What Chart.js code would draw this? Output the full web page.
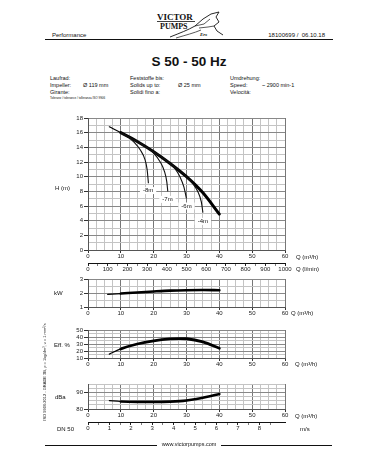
<!DOCTYPE html>
<html><head><meta charset="utf-8">
<script src="https://cdn.jsdelivr.net/npm/chart.js@4.4.1/dist/chart.umd.min.js"></script>
<style>
html,body{margin:0;padding:0;background:#fff;}
#page{position:relative;width:378px;height:472px;overflow:hidden;font-family:"Liberation Sans",Arial,sans-serif;color:#111;}
.t{position:absolute;white-space:nowrap;font-size:6px;line-height:1;}
.s{font-size:5.5px;}
canvas{position:absolute;left:0;}
.hl{position:absolute;height:1.3px;background:#111;}
</style></head><body><div id="page">
<svg width="378" height="45" style="position:absolute;left:0;top:0">
  <text x="157" y="20" font-family="Liberation Serif, DejaVu Serif, serif" font-weight="bold" font-size="9" fill="#111">VICTOR</text>
  <rect x="157" y="21.2" width="38" height="0.8" fill="#111"/>
  <text x="160" y="29" font-family="Liberation Serif, DejaVu Serif, serif" font-weight="bold" font-size="8" fill="#111">PUMPS</text>
  <path d="M170,37 C180,33 188,30 195,26 L203,19 L211,14 L219,12 L216,17 L219,22 L214,26 L217,31 L223,35" fill="none" stroke="#111" stroke-width="0.9"/>
  <path d="M195,26 L204,24 L210,19 M199,28 L208,27 L214,26 M176,38 C186,35 194,33 201,30" fill="none" stroke="#111" stroke-width="0.7"/>
  <text x="200" y="36" font-family="Liberation Serif, serif" font-style="italic" font-weight="bold" font-size="5" fill="#111">Ers</text>
</svg>
<div class="t" style="left:52px;top:32px">Performance</div>
<div class="t" style="right:53px;top:32px">18100699 /&nbsp; 06.10.18</div>
<div class="hl" style="left:45px;top:39px;width:288px"></div>
<div class="t" style="left:0;width:378px;text-align:center;top:54.5px;font-size:13.5px;font-weight:bold">S 50 - 50 Hz</div>

<div class="t s" style="left:50px;top:75.7px">Laufrad:</div>
<div class="t s" style="left:50px;top:82.7px">Impeller:</div>
<div class="t s" style="left:50px;top:89.7px">Girante:</div>
<div class="t" style="left:50px;top:96.5px;font-size:3px">Toleranz / tolerance / tolleranza ISO 9906</div>
<div class="t s" style="left:83px;top:82.7px">Ø 119 mm</div>
<div class="t s" style="left:130px;top:75.7px">Feststoffe bis:</div>
<div class="t s" style="left:130px;top:82.7px">Solids up to:</div>
<div class="t s" style="left:130px;top:89.7px">Solidi fino a:</div>
<div class="t s" style="left:178px;top:82.7px">Ø 25 mm</div>
<div class="t s" style="left:230px;top:75.7px">Umdrehung:</div>
<div class="t s" style="left:230px;top:82.7px">Speed:</div>
<div class="t s" style="left:230px;top:89.7px">Velocità:</div>
<div class="t s" style="left:262px;top:82.7px">~ 2900 min-1</div>

<canvas id="cH" width="378" height="172" style="top:105px"></canvas>
<canvas id="cK" width="378" height="50" style="top:270px"></canvas>
<canvas id="cE" width="378" height="50" style="top:322px"></canvas>
<canvas id="cD" width="378" height="72" style="top:376px"></canvas>

<div class="t" style="left:55px;top:185px">H (m)</div>
<div class="t" style="left:296px;top:253.7px">Q (m³/h)</div>
<div class="t" style="left:296px;top:266.3px">Q (l/min)</div>
<div class="t" style="left:54px;top:290px">kW</div>
<div class="t" style="left:291px;top:310.3px">Q (m³/h)</div>
<div class="t" style="left:54px;top:342px">Eff. %</div>
<div class="t" style="left:295px;top:361.3px">Q (m³/h)</div>
<div class="t" style="left:55px;top:394px">dBa</div>
<div class="t" style="left:295px;top:412.5px">Q (m³/h)</div>
<div class="t" style="left:57px;top:426px">DN 50</div>
<div class="t" style="left:300px;top:426px">m/s</div>
<div class="t" style="left:45px;top:372px;font-size:4px;transform:translate(-50%,-50%) rotate(-90deg)">ISO 9906:2012 - GRADE 3B, ρ = 1kg/dm³, ν = 1 mm²/s</div>

<div class="hl" style="left:45px;top:444.5px;width:112px"></div>
<div class="t s" style="left:0;width:378px;text-align:center;top:442px">www.victorpumps.com</div>
<div class="hl" style="left:221px;top:444.5px;width:111px"></div>
</div>
<script>
// ---- data ----
const qTicksM3h = [0, 10, 20, 30, 40, 50, 60];
const qTicksLmin = [0, 100, 200, 300, 400, 500, 600, 700, 800, 900, 1000];
const headTicks = [0, 2, 4, 6, 8, 10, 12, 14, 16, 18];
const powerTicks = [1, 2, 3];
const effTicks = [10, 20, 30, 40, 50];
const noiseTicks = [80, 90];
const velocityTicks = [0, 1, 2, 3, 4, 5, 6, 7, 8, 9];

const mainQ = [6.5, 10, 15, 20, 25, 30, 35, 40];
const mainH = [16.8, 16.0, 14.8, 13.4, 11.8, 10.0, 7.8, 4.9];

const lift8Q = [10, 12, 14, 16, 17.3, 18.0, 18.4];
const lift8H = [16.0, 15.5, 14.7, 13.6, 12.4, 11.0, 9.1];
const lift7Q = [10, 15, 18, 20, 22, 23.3, 24, 24.3];
const lift7H = [16.0, 14.8, 14.0, 13.2, 12.0, 10.7, 9.3, 8.0];
const lift6Q = [10, 20, 25, 26.5, 28, 29.2, 30];
const lift6H = [16.0, 13.4, 11.8, 11.1, 10.0, 8.6, 7.0];
const lift4Q = [10, 20, 25, 30, 32, 33.5, 34.5, 35];
const lift4H = [16.0, 13.4, 11.8, 10.0, 9.0, 7.9, 6.6, 5.1];

const liftLabels = ['-8m', '-7m', '-6m', '-4m'];
const liftLabelQ = [18.3, 24.2, 30, 35];
const liftLabelH = [8.1, 6.9, 6.0, 3.9];

const powerQ = [6, 10, 15, 20, 25, 30, 35, 40];
const powerKW = [1.9, 1.96, 2.04, 2.11, 2.17, 2.2, 2.21, 2.2];

const effQ = [6.5, 10, 15, 20, 25, 28, 30, 35, 40];
const effPct = [15.5, 23, 30, 34.5, 37.2, 37.8, 37.5, 33, 24];

const noiseQ = [6.5, 10, 15, 20, 25, 28, 30, 33, 36, 40];
const noiseDb = [85, 84.5, 84.3, 84.3, 84.4, 84.7, 85.1, 86, 87.2, 89];

// ---- chart helpers ----
Chart.defaults.font.family = '"Liberation Sans", Arial, sans-serif';
Chart.defaults.font.size = 6;
Chart.defaults.font.lineHeight = 1.2;
Chart.defaults.color = '#222';
Chart.defaults.animation = false;

const CLEAR = 'rgba(0,0,0,0)';
function pts(xs, ys) { return xs.map((x, i) => ({ x: x, y: ys[i] })); }
function isIn(arr, v) { return arr.some(a => Math.abs(a - v) < 1e-6); }
function thin(xs, ys) {
  return { data: pts(xs, ys), borderColor: '#111', borderWidth: 1.1, pointRadius: 0,
    cubicInterpolationMode: 'monotone', fill: false };
}
function thick(xs, ys, w) {
  return { data: pts(xs, ys), borderColor: '#000', borderWidth: w, pointRadius: 0,
    borderCapStyle: 'round', borderJoinStyle: 'round',
    cubicInterpolationMode: 'monotone', fill: false,
    segment: { borderWidth: ctx => ctx.p0.parsed.x < 9.9 ? 1.2 : w } };
}
function qAxis(h) {
  return {
    type: 'linear', position: 'bottom', min: 0, max: 60,
    afterFit: s => { s.height = h; },
    ticks: { stepSize: 2.5, autoSkip: false, maxRotation: 0, minRotation: 0, padding: 0,
      callback: v => isIn(qTicksM3h, v) ? String(v) : '' },
    grid: { lineWidth: 1,
      color: ctx => (ctx.tick && ctx.tick.value % 10 === 0) ? '#777' : '#c4c4c4',
      tickLength: 3,
      tickColor: ctx => (ctx.tick && ctx.tick.value % 10 === 0) ? '#333' : CLEAR },
    border: { display: true, color: '#555', width: 1 }
  };
}
function valAxis(min, max, step, labels, major) {
  return {
    type: 'linear', min: min, max: max,
    afterFit: s => { s.width = 28; },
    ticks: { stepSize: step, autoSkip: false, padding: 1,
      callback: v => isIn(labels, v) ? String(v) : '' },
    grid: { lineWidth: 1,
      color: ctx => (ctx.tick && isIn(major, ctx.tick.value)) ? '#888' : '#c4c4c4',
      tickLength: 4,
      tickColor: ctx => (ctx.tick && isIn(labels, ctx.tick.value)) ? '#333' : CLEAR },
    border: { display: true, color: '#555', width: 1 }
  };
}
function baseOpts(pad, scales) {
  return {
    responsive: false, maintainAspectRatio: false, devicePixelRatio: 1, animation: false,
    layout: { padding: pad },
    plugins: { legend: { display: false }, tooltip: { enabled: false } },
    scales: scales
  };
}

const liftLabelPlugin = {
  id: 'liftLabels',
  afterDatasetsDraw(chart) {
    const c = chart.ctx, sx = chart.scales.x, sy = chart.scales.y;
    c.save();
    c.font = '6px "Liberation Sans", Arial, sans-serif';
    c.textAlign = 'center';
    c.textBaseline = 'middle';
    liftLabels.forEach((t, i) => {
      const px = sx.getPixelForValue(liftLabelQ[i]);
      const py = sy.getPixelForValue(liftLabelH[i]);
      const w = c.measureText(t).width + 6;
      c.fillStyle = '#fff';
      c.fillRect(px - w / 2, py - 3.5, w, 7);
      c.fillStyle = '#111';
      c.fillText(t, px, py);
    });
    c.restore();
  }
};

// ---- H chart ----
new Chart(document.getElementById('cH'), {
  type: 'line',
  data: { datasets: [
    thin(lift8Q, lift8H), thin(lift7Q, lift7H), thin(lift6Q, lift6H), thin(lift4Q, lift4H),
    thick(mainQ, mainH, 3)
  ] },
  options: baseOpts({ top: 13, bottom: 2, left: 60, right: 93 }, {
    x: qAxis(13),
    x2: {
      type: 'linear', position: 'bottom', min: 0, max: 1000,
      afterFit: s => { s.height = 12; },
      ticks: { stepSize: 50, autoSkip: false, maxRotation: 0, minRotation: 0, padding: 0,
        callback: v => isIn(qTicksLmin, v) ? String(v) : '' },
      grid: { drawOnChartArea: false, tickLength: 3, tickColor: '#222',
        tickWidth: ctx => (ctx.tick && ctx.tick.value % 100 === 0) ? 1 : 0.6 },
      border: { display: true, color: '#111', width: 1 }
    },
    y: valAxis(0, 18, 1, headTicks, headTicks)
  }),
  plugins: [liftLabelPlugin]
});

// ---- kW chart ----
new Chart(document.getElementById('cK'), {
  type: 'line',
  data: { datasets: [ thick(powerQ, powerKW, 2.6) ] },
  options: baseOpts({ top: 9, bottom: 3, left: 60, right: 93 }, {
    x: qAxis(10),
    y: valAxis(1, 3, 0.5, powerTicks, powerTicks)
  })
});

// ---- Efficiency chart ----
new Chart(document.getElementById('cE'), {
  type: 'line',
  data: { datasets: [ thick(effQ, effPct, 2.8) ] },
  options: baseOpts({ top: 8, bottom: 4, left: 60, right: 93 }, {
    x: qAxis(10),
    y: valAxis(10, 50, 5, effTicks, effTicks)
  })
});

// ---- Noise chart + velocity axis ----
new Chart(document.getElementById('cD'), {
  type: 'line',
  data: { datasets: [ thick(noiseQ, noiseDb, 2.6) ] },
  options: baseOpts({ top: 8, bottom: 14, left: 60, right: 93 }, {
    x: qAxis(13),
    x2: {
      type: 'linear', position: 'bottom', min: 0, max: 9.2,
      afterFit: s => { s.height = 12; },
      ticks: { stepSize: 0.5, autoSkip: false, maxRotation: 0, minRotation: 0, padding: 0,
        callback: v => isIn(velocityTicks, v) ? String(v) : '' },
      grid: { drawOnChartArea: false, tickLength: 3,
        tickColor: ctx => (ctx.tick && Math.abs(ctx.tick.value * 2 - Math.round(ctx.tick.value * 2)) < 1e-6) ? '#222' : CLEAR,
        tickWidth: ctx => (ctx.tick && isIn(velocityTicks, ctx.tick.value)) ? 1 : 0.6 },
      border: { display: true, color: '#111', width: 1 }
    },
    y: valAxis(80, 95, 2.5, noiseTicks, noiseTicks)
  })
});
</script>
</body></html>
